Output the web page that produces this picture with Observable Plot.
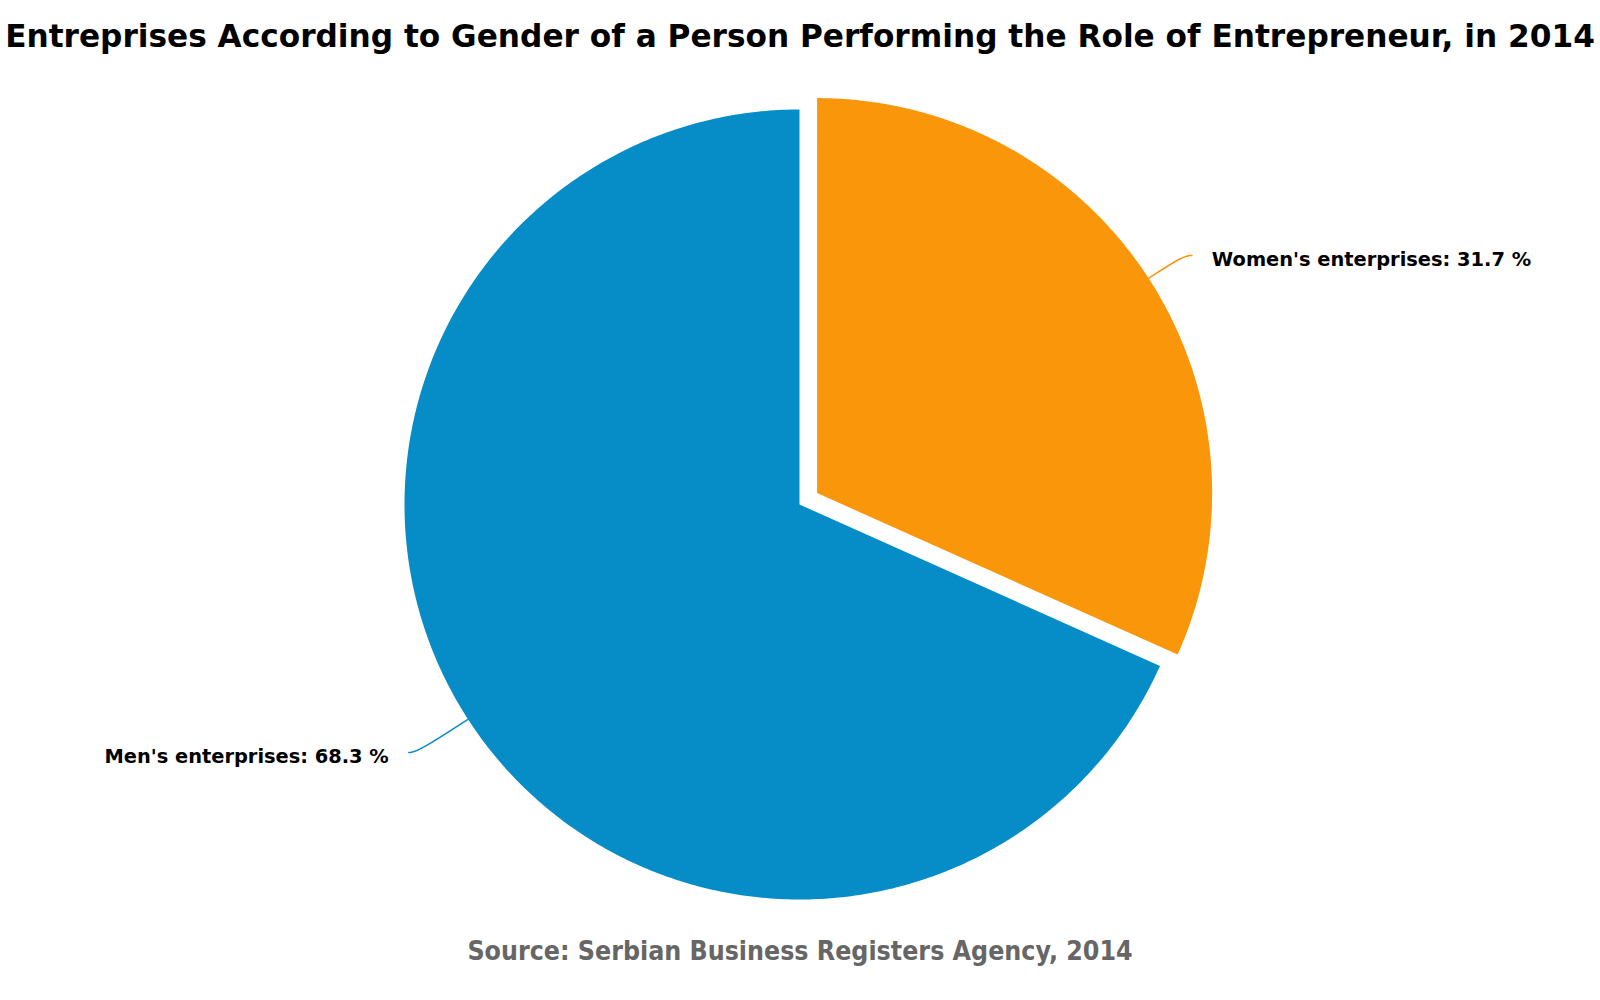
<!DOCTYPE html>
<html>
<head>
<meta charset="utf-8">
<script src="https://cdn.jsdelivr.net/npm/d3@7"></script>
<script src="https://cdn.jsdelivr.net/npm/@observablehq/plot@0.6"></script>
<style>
  html, body { margin: 0; padding: 0; background: #fff; }
  #wrap { position: relative; width: 1600px; height: 1000px; overflow: hidden; }
  #title { position: absolute; left: 0; top: 17px; width: 1600px; display: flex; justify-content: center;
           white-space: nowrap; font-family: "DejaVu Sans", sans-serif; font-weight: bold; font-size: 31.2px;
           line-height: 38px; color: #000; }
  #chart { position: absolute; left: 0; top: 60px; }
  #source { position: absolute; left: 0; top: 935px; width: 1600px; text-align: center; white-space: nowrap;
            font-family: "DejaVu Sans Condensed", "DejaVu Sans", sans-serif; font-stretch: condensed;
            font-weight: bold; font-size: 26.5px; line-height: 31px; color: #666666; }
</style>
</head>
<body>
<div id="wrap">
  <div id="title"><span>Entreprises According to Gender of a Person Performing the Role of Entrepreneur, in 2014</span></div>
  <div id="chart"></div>
  <div id="source">Source: Serbian Business Registers Agency, 2014</div>
</div>
<script>
// ---- data ----
const categories = ["Women's enterprises", "Men's enterprises"];
const values = [31.7, 68.3];
const colors = ["#f9960a", "#068dc8"];
const sliced = [true, false];

// ---- layout config ----
const W = 1600, H = 870;
const cx = 799, cy = 444;      // pie centre in svg pixels
const R = 395;
const sliceOffset = 21;
const labelDist = [42, 61];    // connector knee distance beyond the rim
const connEnd = 8, textGap = 20;

const total = d3.sum(values);
let acc = 0;
const slices = categories.map((c, i) => {
  const a0 = acc / total * 2 * Math.PI;
  acc += values[i];
  const a1 = acc / total * 2 * Math.PI;
  const mid = (a0 + a1) / 2;
  const off = sliced[i] ? sliceOffset : 0;
  const ox = Math.sin(mid) * off, oy = -Math.cos(mid) * off;
  return {key: c, value: values[i], a0, a1, mid, ox, oy, i};
});

// polygons
const poly = [];
for (const s of slices) {
  poly.push({key: s.key, x: s.ox, y: s.oy});
  const n = 400;
  for (let k = 0; k <= n; k++) {
    const a = s.a0 + (s.a1 - s.a0) * k / n;
    poly.push({key: s.key, x: s.ox + Math.sin(a) * R, y: s.oy - Math.cos(a) * R});
  }
  poly.push({key: s.key, x: s.ox, y: s.oy});
}

// connectors and labels
const conn = [];
const labels = [];
for (const s of slices) {
  const dx = Math.sin(s.mid), dy = -Math.cos(s.mid);
  const side = dx >= 0 ? 1 : -1;
  const p0 = {x: s.ox + dx * R, y: s.oy + dy * R};
  const p1 = {x: s.ox + dx * (R + labelDist[s.i]), y: s.oy + dy * (R + labelDist[s.i])};
  const p2 = {x: p1.x + side * connEnd, y: p1.y};
  conn.push({key: s.key, ...p0}, {key: s.key, ...p1}, {key: s.key, ...p2});
  labels.push({key: s.key, side, x: p2.x + side * textGap, y: p2.y,
               text: `${s.key}: ${s.value.toFixed(1)} %`});
}

const labelFont = {fontFamily: "DejaVu Sans", fontWeight: "bold", fontSize: 19.4, fill: "#000", dy: 4};

const chart = Plot.plot({
  width: W, height: H,
  margin: 0,
  x: {domain: [-cx, W - cx], range: [0, W], axis: null},
  y: {domain: [-cy, H - cy], range: [0, H], axis: null},
  color: {domain: categories, range: colors},
  style: {background: "#fff", overflow: "visible"},
  marks: [
    Plot.line(poly, {x: "x", y: "y", z: "key", fill: "key", stroke: "none", curve: "linear"}),
    Plot.line(conn, {x: "x", y: "y", z: "key", stroke: "key", strokeWidth: 1.5, curve: "basis"}),
    Plot.text(labels.filter(d => d.side > 0), {x: "x", y: "y", text: "text", textAnchor: "start", ...labelFont}),
    Plot.text(labels.filter(d => d.side < 0), {x: "x", y: "y", text: "text", textAnchor: "end", ...labelFont})
  ]
});
document.getElementById("chart").appendChild(chart);
</script>
</body>
</html>
